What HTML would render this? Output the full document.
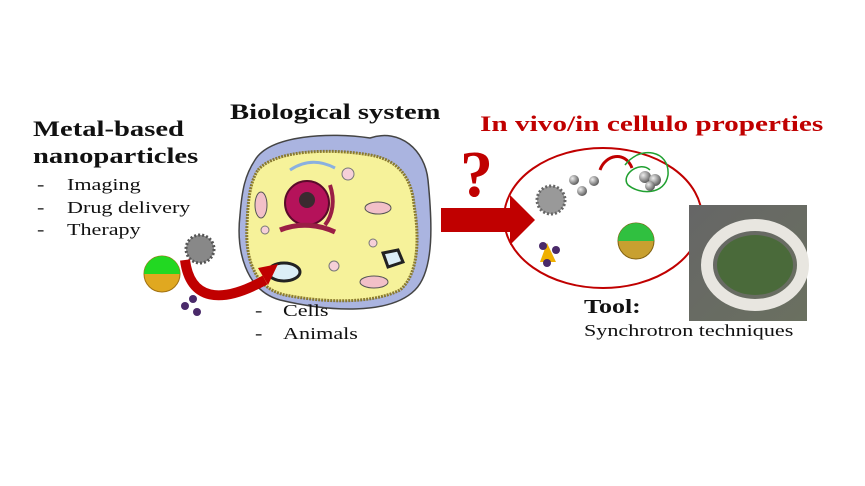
<!DOCTYPE html>
<html><head><meta charset="utf-8"><style>
html,body{margin:0;padding:0;background:#fff;width:865px;height:486px;overflow:hidden}
.t{position:absolute;font-family:"Liberation Serif",serif;color:#111;white-space:nowrap;line-height:1;transform:scaleX(1.3);transform-origin:0 0}
.b{font-weight:bold}
</style></head><body>
<svg width="865" height="486" style="position:absolute;left:0;top:0">
<defs>
<radialGradient id="gr" cx="0.35" cy="0.35" r="0.7"><stop offset="0" stop-color="#eee"/><stop offset="1" stop-color="#555"/></radialGradient>
<linearGradient id="sky" x1="0" y1="0" x2="1" y2="1"><stop offset="0" stop-color="#666"/><stop offset="1" stop-color="#6a7060"/></linearGradient>
</defs>
<path d="M255,160 C270,135 330,132 370,138 C400,128 425,150 428,180 C432,220 435,270 415,290 C390,315 330,312 280,300 C245,290 236,250 240,215 C242,190 245,175 255,160Z" fill="#aab4e0" stroke="#444" stroke-width="1.5"/>
<path d="M258,170 C275,150 330,148 370,155 C400,160 412,180 414,205 C420,240 418,275 400,290 C370,305 320,302 285,295 C255,288 245,260 247,225 C248,200 250,182 258,170Z" fill="#f6f29a" stroke="#8a7a30" stroke-width="3" stroke-dasharray="2 1"/>
<circle cx="307" cy="203" r="22" fill="#b5125a" stroke="#5a0a2a" stroke-width="2"/>
<circle cx="307" cy="200" r="8" fill="#3a2a30"/>
<path d="M280,230 C300,222 320,225 335,232" stroke="#9a1e45" stroke-width="5" fill="none"/>
<path d="M330,185 C335,200 333,215 325,225" stroke="#9a1e45" stroke-width="4" fill="none"/>
<path d="M290,170 C305,160 320,160 335,168" stroke="#8ab0e0" stroke-width="3" fill="none"/>
<ellipse cx="261" cy="205" rx="6" ry="13" fill="#f2c0c8" stroke="#555"/>
<ellipse cx="378" cy="208" rx="13" ry="6" fill="#f2c0c8" stroke="#555"/>
<ellipse cx="374" cy="282" rx="14" ry="6" fill="#f2c0c8" stroke="#555"/>
<circle cx="348" cy="174" r="6" fill="#f6d0d8" stroke="#777"/>
<circle cx="265" cy="230" r="4" fill="#f6d0d8" stroke="#777"/>
<circle cx="334" cy="266" r="5" fill="#f6d0d8" stroke="#777"/>
<circle cx="373" cy="243" r="4" fill="#f6d0d8" stroke="#777"/>
<path d="M383,253 L398,250 L403,262 L388,267 Z" fill="#dceef6" stroke="#222" stroke-width="3"/>
<ellipse cx="284" cy="272" rx="16" ry="9" fill="#dceef6" stroke="#222" stroke-width="3"/>
<circle cx="162" cy="274" r="18" fill="#e0a820" stroke="#a07010"/>
<path d="M144,274 A18,18 0 0 1 180,274 Z" fill="#22d822"/>
<circle cx="200" cy="249" r="14" fill="#888" stroke="#555" stroke-dasharray="2 2" stroke-width="3"/>
<circle cx="185" cy="306" r="4" fill="#4a2a6a"/><circle cx="197" cy="312" r="4" fill="#4a2a6a"/><circle cx="193" cy="299" r="4" fill="#4a2a6a"/>
<path d="M185,260 C190,300 220,305 265,280" stroke="#c00000" stroke-width="10" fill="none"/>
<polygon points="258,268 278,264 268,285" fill="#c00000"/>
<polygon points="441,208 510,208 510,195 535,220 510,245 510,232 441,232" fill="#c00000"/>
<text x="460" y="196" font-family="Liberation Serif,serif" font-weight="bold" font-size="66" fill="#c00000">?</text>
<ellipse cx="603" cy="218" rx="99" ry="70" fill="none" stroke="#c00000" stroke-width="2"/>
<circle cx="551" cy="200" r="14" fill="#999" stroke="#666" stroke-dasharray="2 2" stroke-width="3"/>
<circle cx="574" cy="180" r="5" fill="url(#gr)"/><circle cx="582" cy="191" r="5" fill="url(#gr)"/><circle cx="594" cy="181" r="5" fill="url(#gr)"/>
<path d="M600,170 C605,155 625,150 632,168" stroke="#c00000" stroke-width="3" fill="none"/>
<g stroke="#20a030" stroke-width="1.5" fill="none"><path d="M625,165 C640,145 670,150 668,175 C665,195 640,195 628,185 C620,175 640,160 650,170"/></g>
<circle cx="645" cy="177" r="6" fill="url(#gr)"/><circle cx="655" cy="180" r="6" fill="url(#gr)"/><circle cx="650" cy="186" r="5" fill="url(#gr)"/>
<circle cx="636" cy="241" r="18" fill="#c8a030" stroke="#806010"/>
<path d="M618,241 A18,18 0 0 1 654,241 Z" fill="#30c040"/>
<polygon points="547,243 540,262 556,262" fill="#f0b000"/>
<circle cx="543" cy="246" r="4" fill="#4a2a6a"/><circle cx="556" cy="250" r="4" fill="#4a2a6a"/><circle cx="547" cy="263" r="4" fill="#4a2a6a"/>
<rect x="689" y="205" width="118" height="116" fill="url(#sky)"/>
<ellipse cx="755" cy="265" rx="48" ry="40" fill="none" stroke="#e8e6e0" stroke-width="12"/>
<ellipse cx="755" cy="265" rx="38" ry="30" fill="#4a6a3a"/>
</svg>
<div class="t b" style="left:33px;top:118px;font-size:22px">Metal-based</div>
<div class="t b" style="left:33px;top:145px;font-size:22px">nanoparticles</div>
<div class="t" style="left:37px;top:176px;font-size:17px">-</div><div class="t" style="left:67px;top:176px;font-size:17px">Imaging</div>
<div class="t" style="left:37px;top:199px;font-size:17px">-</div><div class="t" style="left:67px;top:199px;font-size:17px">Drug delivery</div>
<div class="t" style="left:37px;top:221px;font-size:17px">-</div><div class="t" style="left:67px;top:221px;font-size:17px">Therapy</div>
<div class="t b" style="left:230px;top:101px;font-size:22px">Biological system</div>
<div class="t" style="left:255px;top:302px;font-size:17px">-</div><div class="t" style="left:283px;top:302px;font-size:17px">Cells</div>
<div class="t" style="left:255px;top:325px;font-size:17px">-</div><div class="t" style="left:283px;top:325px;font-size:17px">Animals</div>
<div class="t b" style="left:480px;top:113px;font-size:22px;color:#c00000;transform:scaleX(1.33)">In vivo/in cellulo properties</div>
<div class="t b" style="left:584px;top:297px;font-size:20px">Tool:</div>
<div class="t" style="left:584px;top:322px;font-size:17px">Synchrotron techniques</div>
</body></html>
